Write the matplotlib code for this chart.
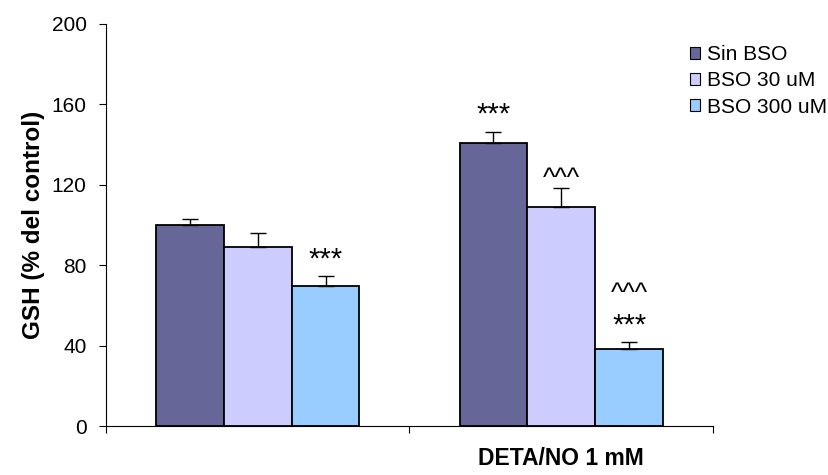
import matplotlib

matplotlib.use("Agg")
import matplotlib.pyplot as plt
import numpy as np
from matplotlib.patches import Patch

plt.rcParams["font.family"] = ["Liberation Sans", "DejaVu Sans"]

groups = ["", "DETA/NO 1 mM"]
series = ["Sin BSO", "BSO 30 uM", "BSO 300 uM"]
gsh = [
    [100.0, 141.0],
    [89.0, 109.0],
    [69.5, 38.5],
]
sem = [
    [3.0, 5.5],
    [7.0, 9.5],
    [5.0, 3.5],
]
# significance marks above each bar, stacked bottom to top
marks = [
    [[], ["***"]],
    [[], ["^^^"]],
    [["***"], ["***", "^^^"]],
]
colors = ["#666699", "#CCCCFF", "#99CCFF"]

# font size, ink centre height (em) and gap above the error bar per mark
mark_style = {"***": (21, 0.57, 12.5), "^^^": (19, 0.53, 8.0)}

fig = plt.figure(figsize=(8.29, 4.75), dpi=100)
ax = fig.add_axes([106 / 829, 49 / 475, 607 / 829, 402 / 475])

x = np.arange(len(groups))
width = 0.67 / len(series)
for i, name in enumerate(series):
    pos = x + (i - 1) * width
    ax.bar(pos, gsh[i], width, color=colors[i], edgecolor="black",
           linewidth=1.3, label=name, zorder=2)
    ax.errorbar(pos, gsh[i], yerr=[np.zeros(len(groups)), sem[i]],
                fmt="none", ecolor="black", elinewidth=1.0, capsize=5.5,
                capthick=1.0, zorder=3)
    for j in range(len(groups)):
        y = None
        for label in marks[i][j]:
            size, mid, gap = mark_style[label]
            y = gsh[i][j] + sem[i][j] + gap if y is None else y + 14.5
            ax.annotate(label, (pos[j], y), xytext=(0, -mid * size),
                        textcoords="offset points", ha="center",
                        va="baseline", fontsize=size)

ax.set_xlim(-0.5, len(groups) - 0.5)
ax.set_ylim(0, 200)
ax.set_yticks(np.arange(0, 201, 40))
ax.tick_params(axis="y", labelsize=15, length=5, width=0.8, pad=9,
               direction="out")
ax.set_xticks(np.arange(len(groups) + 1) - 0.5, minor=True)
ax.set_xticks(x)
ax.set_xticklabels(groups, fontsize=16.5, fontweight="bold")
ax.tick_params(axis="x", which="major", length=0, pad=15)
ax.tick_params(axis="x", which="minor", length=5, width=0.8, direction="out")
ax.set_ylabel("GSH (% del control)", fontsize=17.5, fontweight="bold",
              labelpad=5)
for side in ("top", "right"):
    ax.spines[side].set_visible(False)
for side in ("left", "bottom"):
    ax.spines[side].set_linewidth(0.8)

handles = [Patch(facecolor=c, edgecolor="black", linewidth=0.8) for c in colors]
fig.legend(handles, series, loc="upper left",
           bbox_to_anchor=(690 / 829, 1 - 45 / 475), frameon=False,
           fontsize=15, handlelength=0.5, handleheight=0.5,
           handletextpad=0.3, labelspacing=0.35, borderpad=0,
           borderaxespad=0)

fig.savefig("out.png", dpi=100)
